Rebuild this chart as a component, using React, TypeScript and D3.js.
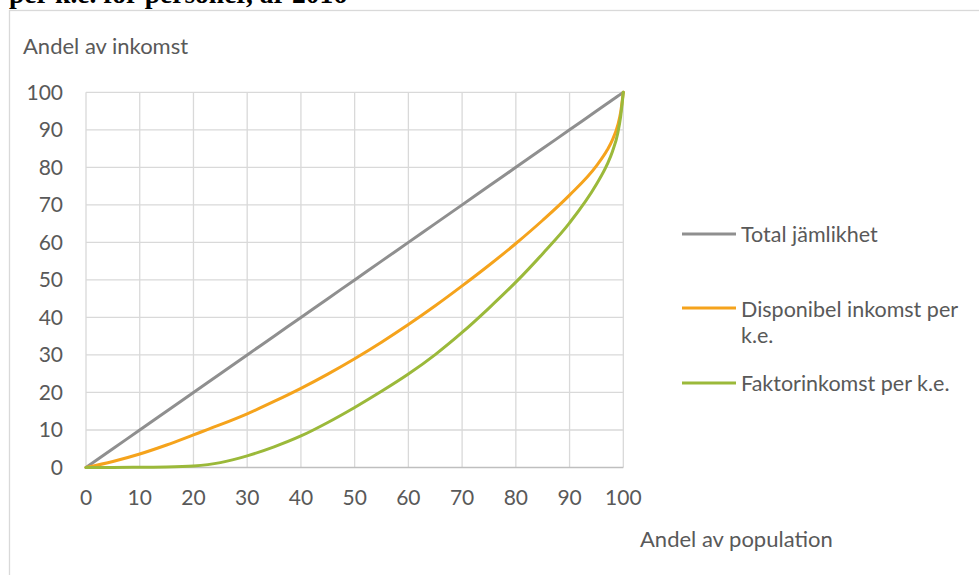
import React from "react";
import * as d3 from "d3";

const xTicks = [0, 10, 20, 30, 40, 50, 60, 70, 80, 90, 100];
const yTicks = [0, 10, 20, 30, 40, 50, 60, 70, 80, 90, 100];

const population = [0, 5, 10, 15, 20, 25, 30, 35, 40, 45, 50, 55, 60, 65, 70, 75, 80, 85, 90, 95, 97, 98, 99, 99.5, 100];
const totalJamlikhet = population.map((p) => p);
const disponibel = [0, 1.6, 3.6, 6.0, 8.7, 11.4, 14.3, 17.6, 21.1, 24.9, 29.0, 33.4, 38.1, 43.1, 48.4, 53.9, 59.7, 65.9, 72.6, 80.4, 84.6, 87.4, 91.4, 94.6, 100];
const faktor = [0, 0, 0.05, 0.12, 0.4, 1.3, 3.1, 5.5, 8.4, 12.0, 16.0, 20.3, 24.9, 30.1, 36.0, 42.5, 49.4, 57.0, 65.2, 75.5, 80.8, 84.3, 89.3, 93.5, 100];

const seriesNames = ["Total jämlikhet", "Disponibel inkomst per k.e.", "Faktorinkomst per k.e."];
const colors = ["#8f8f8f", "#f5a31c", "#9bb93a"];

const FONT = "Lato, 'Open Sans', sans-serif";
const TXT = "#595959";

export default function App() {
  const x = d3.scaleLinear().domain([0, 100]).range([86, 623.3]);
  const y = d3.scaleLinear().domain([0, 100]).range([467.5, 92.3]);
  const line = d3
    .line<[number, number]>()
    .x((d) => x(d[0]))
    .y((d) => y(d[1]))
    .curve(d3.curveMonotoneX);
  const series = [totalJamlikhet, disponibel, faktor].map((vals) =>
    population.map((p, i) => [p, vals[i]] as [number, number])
  );
  const legendY = [234, 308, 383];

  return (
    <svg
      width={979}
      height={575}
      style={{ position: "absolute", left: 0, top: 0, background: "#fff" }}
    >
      <text x={9} y={3} fontFamily="'Liberation Serif', 'Times New Roman', serif" fontWeight="bold" fontSize={27.5} fill="#000">
        per k.e. för personer, år 2016
      </text>
      <rect x={9.5} y={10.5} width={1000} height={600} fill="#fff" stroke="#d9d9d9" strokeWidth={1.3} />
      <text x={23} y={54} fontFamily={FONT} fontSize={22} fill={TXT}>
        Andel av inkomst
      </text>
      {xTicks.map((t) => (
        <line key={"gx" + t} x1={x(t)} x2={x(t)} y1={y(100)} y2={y(0)} stroke="#d9d9d9" strokeWidth={1.3} />
      ))}
      {yTicks.map((t) => (
        <line key={"gy" + t} x1={x(0)} x2={x(100)} y1={y(t)} y2={y(t)} stroke={t === 0 ? "#bfbfbf" : "#d9d9d9"} strokeWidth={1.3} />
      ))}
      {yTicks.map((t) => (
        <text key={"ty" + t} x={63} y={y(t)} dy="0.35em" textAnchor="end" fontFamily={FONT} fontSize={21} fill={TXT}>
          {t}
        </text>
      ))}
      {xTicks.map((t) => (
        <text key={"tx" + t} x={x(t)} y={505} textAnchor="middle" fontFamily={FONT} fontSize={21} fill={TXT}>
          {t}
        </text>
      ))}
      <text x={640} y={547} fontFamily={FONT} fontSize={22} fill={TXT}>
        Andel av population
      </text>
      {series.map((s, i) => (
        <path key={"s" + i} d={line(s) || ""} fill="none" stroke={colors[i]} strokeWidth={3} strokeLinecap="round" />
      ))}
      {seriesNames.map((n, i) => (
        <line key={"lg" + i} x1={682} x2={736} y1={legendY[i]} y2={legendY[i]} stroke={colors[i]} strokeWidth={3} />
      ))}
      <text x={741} y={242} fontFamily={FONT} fontSize={21.5} fill={TXT}>
        {seriesNames[0]}
      </text>
      <text x={741} y={316.5} fontFamily={FONT} fontSize={21.5} fill={TXT}>
        Disponibel inkomst per
      </text>
      <text x={741} y={343} fontFamily={FONT} fontSize={21.5} fill={TXT}>
        k.e.
      </text>
      <text x={741} y={391} fontFamily={FONT} fontSize={21.5} fill={TXT}>
        {seriesNames[2]}
      </text>
    </svg>
  );
}
